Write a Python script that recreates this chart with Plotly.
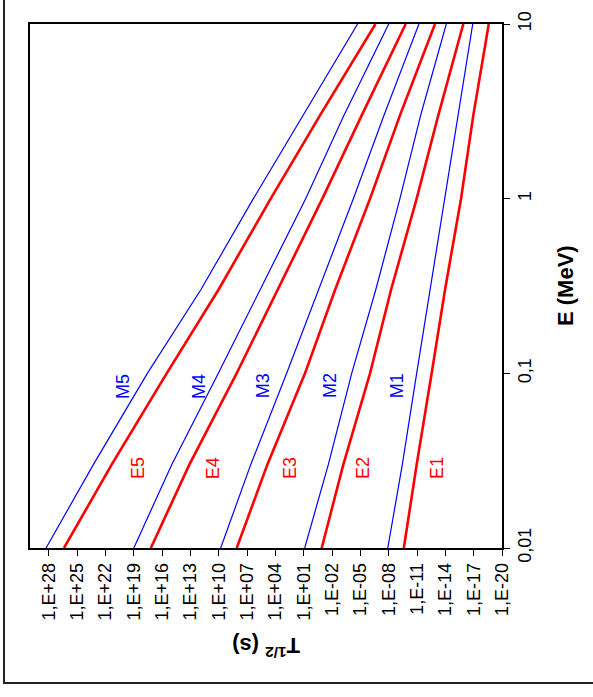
import math
import plotly.graph_objects as go

# Energy points (MeV) at which the curves were read
E_pts = [0.01, 0.03, 0.1, 0.3, 1, 3, 10]

# log10 of half-life (s) for each multipolarity, read at E_pts
M5 = [28.3, 23.29, 17.57, 11.92, 6.34, 1.05, -4.7]
E5 = [26.4, 21.35, 15.52, 10.05, 4.5, -0.72, -6.6]
M4 = [19.0, 14.99, 10.05, 5.64, 0.8, -3.26, -8.0]
E4 = [17.2, 13.12, 8.11, 3.8, -0.97, -5.14, -9.8]
M3 = [9.8, 6.62, 2.81, -0.54, -4.25, -7.5, -11.2]
E3 = [8.1, 4.86, 0.87, -2.31, -6.02, -9.19, -12.9]
M2 = [0.9, -1.6, -4.08, -6.62, -9.19, -11.38, -14.1]
E2 = [-0.9, -3.19, -6.02, -8.24, -10.96, -13.25, -15.9]
M1 = [-7.9, -9.44, -10.96, -12.37, -13.96, -15.3, -16.9]
E1 = [-9.6, -10.96, -12.55, -13.96, -15.66, -16.96, -18.6]

series = {"M5": M5, "E5": E5, "M4": M4, "E4": E4, "M3": M3,
          "E3": E3, "M2": M2, "E2": E2, "M1": M1, "E1": E1}

# label positions: (log10 T, E)
label_pos = {"M5": (20.15, 0.0845), "E5": (18.56, 0.0287),
             "M4": (12.1, 0.0845), "E4": (10.6, 0.0287),
             "M3": (5.3, 0.0845), "E3": (2.46, 0.0287),
             "M2": (-1.78, 0.0845), "E2": (-5.28, 0.0287),
             "M1": (-8.88, 0.0845), "E1": (-13.1, 0.0287)}

T_tick_exp = list(range(28, -21, -3))
T_tick_text = ["1,E%+03d" % e for e in T_tick_exp]
E_tick_vals = [0.01, 0.1, 1, 10]
E_tick_text = ["0,01", "0,1", "1", "10"]

FONT = "Liberation Sans, Arial, sans-serif"
RED = "#FF0000"
BLUE = "#0000FF"

fig = go.Figure()
for name, vals in series.items():
    is_e = name.startswith("E")
    fig.add_trace(go.Scatter(
        x=[10.0 ** v for v in vals], y=E_pts, mode="lines", name=name,
        line=dict(color=RED if is_e else BLUE, width=2.6 if is_e else 1.2),
        showlegend=False))

for name, (lx, ly) in label_pos.items():
    fig.add_annotation(x=lx, y=math.log10(ly), xref="x", yref="y",
                       text=name, showarrow=False, textangle=-90,
                       xanchor="center", yanchor="middle",
                       font=dict(family=FONT, size=18,
                                 color=RED if name.startswith("E") else BLUE))

fig.add_annotation(x=0.5, y=-0.189, xref="paper", yref="paper",
                   text="<b>T<sup>1/2</sup> (s)</b>", showarrow=False,
                   textangle=180, xanchor="center", yanchor="middle",
                   font=dict(family=FONT, size=22, color="black"))
fig.add_annotation(x=1.1335, y=0.5, xref="paper", yref="paper",
                   text="<b>E (MeV)</b>", showarrow=False,
                   textangle=-90, xanchor="center", yanchor="middle",
                   font=dict(family=FONT, size=22, color="black"))

fig.add_shape(type="rect", xref="paper", yref="paper",
              x0=-0.0551, x1=1.25, y0=-0.2576, y1=1.1,
              line=dict(color="#222222", width=2), layer="below")

fig.update_xaxes(type="log", range=[30, -20],
                 tickvals=[10.0 ** e for e in T_tick_exp], ticktext=T_tick_text,
                 tickangle=-90, ticks="outside", ticklen=6, tickwidth=1.2,
                 tickcolor="black", showline=True, linecolor="black",
                 linewidth=1.5, mirror=True, showgrid=False, zeroline=False,
                 tickfont=dict(family=FONT, size=18, color="black"))
fig.update_yaxes(type="log", range=[-2, 1], side="right",
                 tickvals=E_tick_vals, ticktext=E_tick_text,
                 tickangle=-90, ticks="outside", ticklen=6, tickwidth=1.2,
                 tickcolor="black", showline=True, linecolor="black",
                 linewidth=1.5, mirror=True, showgrid=False, zeroline=False,
                 tickfont=dict(family=FONT, size=18, color="black"))

fig.update_layout(width=593, height=697,
                  margin=dict(l=30, r=91, t=24, b=149),
                  plot_bgcolor="white", paper_bgcolor="white",
                  font=dict(family=FONT))

fig.write_html("out.html", config={"displayModeBar": False},
               post_script="document.body.style.margin='0';"
                           "document.body.style.overflow='hidden';")
